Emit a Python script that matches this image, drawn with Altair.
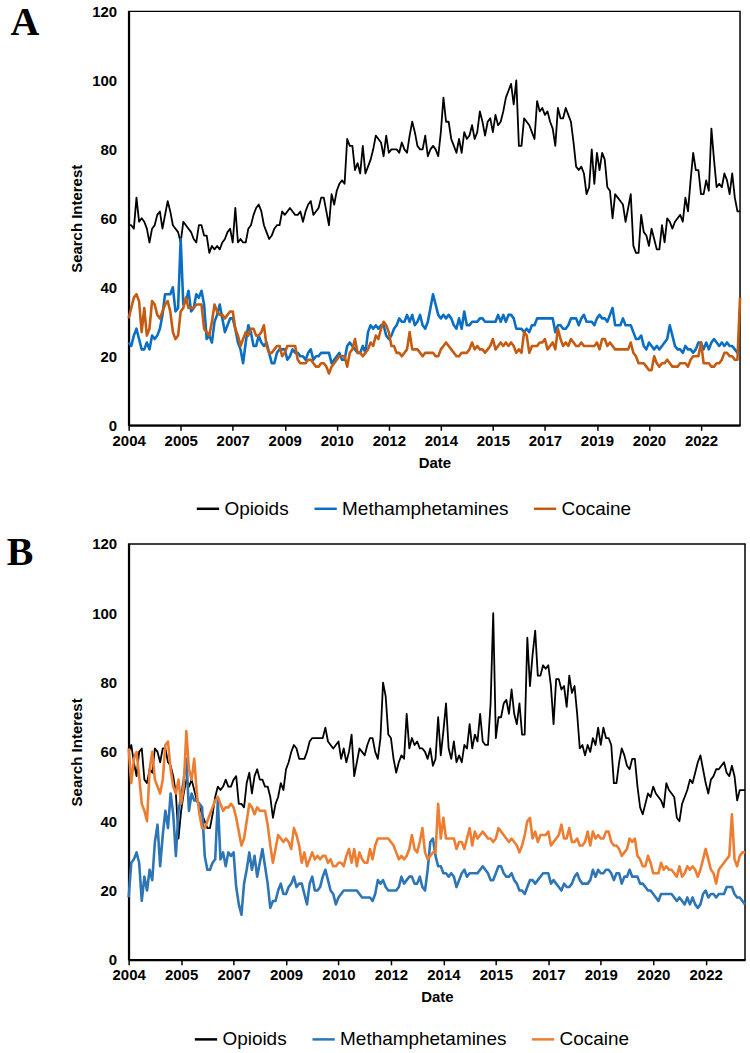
import altair as alt
import pandas as pd

# month index 0 = Jan 2004 ... 235 = Aug 2023
months = list(range(236))
series_names = ["Opioids", "Methamphetamines", "Cocaine"]
tick_months = list(range(0, 221, 20))
y_ticks = [0, 20, 40, 60, 80, 100, 120]

# ---------------- Panel A ----------------
a_opioids = [
    58, 58, 57, 66, 59, 60, 59, 57, 53, 57, 58, 61,
    62, 57, 61, 65, 62, 58, 57, 56, 53, 59, 58, 57,
    56, 54, 53, 58, 58, 55, 55, 50, 52, 51, 52, 51,
    53, 54, 56, 57, 53, 63, 53, 54, 53, 53, 57, 58,
    61, 63, 64, 62, 58, 56, 54, 55, 57, 58, 58, 62,
    61, 62, 63, 62, 61, 61, 62, 59, 62, 64, 65, 61,
    62, 63, 66, 66, 62, 58, 67, 64, 68, 70, 71, 70,
    83, 81, 81, 74, 76, 73, 81, 73, 75, 77, 80, 84,
    83, 82, 78, 84, 79, 80, 80, 80, 79, 82, 80, 79,
    84, 88, 85, 81, 80, 80, 84, 78, 80, 81, 80, 78,
    85, 95, 88, 88, 83, 81, 79, 83, 79, 85, 83, 84,
    87, 83, 85, 91, 88, 84, 88, 89, 85, 90, 87, 88,
    91, 95, 97, 99, 93, 100, 81, 81, 89, 88, 87, 85,
    83, 94, 91, 92, 90, 91, 88, 86, 81, 92, 89, 89,
    92, 90, 88, 82, 75, 74, 75, 73, 67, 69, 80, 70,
    79, 74, 79, 77, 69, 68, 60, 67, 66, 65, 64, 59,
    63, 67, 52, 50, 50, 61, 56, 55, 52, 57, 54, 51,
    51, 58, 53, 60, 59, 57, 59, 60, 61, 59, 66, 62,
    71, 79, 74, 74, 67, 67, 71, 68, 86, 77, 69, 70,
    69, 73, 71, 67, 73, 66, 62, 62,
]
a_meth = [
    24, 23, 26, 28, 25, 22, 22, 24, 22, 26, 25, 26,
    28, 32, 38, 38, 38, 40, 33, 34, 54, 35, 36, 39,
    33, 34, 38, 37, 39, 35, 25, 26, 24, 30, 32, 35,
    31, 27, 29, 31, 31, 28, 24, 22, 18, 24, 29, 27,
    23, 23, 26, 24, 23, 24, 21, 18, 18, 21, 22, 22,
    22, 19, 20, 22, 21, 21, 20, 20, 19, 21, 22, 19,
    20, 20, 21, 21, 21, 21, 18, 19, 20, 21, 19, 19,
    23, 24, 23, 22, 21, 21, 23, 21, 27, 29, 28, 29,
    28, 29, 29, 26, 25, 26, 28, 29, 31, 30, 30, 32,
    30, 32, 29, 30, 32, 29, 28, 30, 34, 38, 35, 32,
    31, 32, 31, 32, 31, 29, 28, 31, 28, 33, 29, 29,
    30, 30, 30, 31, 31, 30, 30, 30, 30, 30, 32, 30,
    32, 30, 32, 32, 31, 28, 28, 28, 27, 28, 27, 29,
    29, 31, 31, 31, 31, 31, 31, 31, 27, 29, 29, 28,
    28, 29, 31, 31, 31, 29, 31, 32, 30, 30, 30, 29,
    31, 32, 31, 31, 30, 32, 34, 29, 29, 29, 31, 29,
    29, 29, 27, 25, 25, 26, 23, 22, 24, 23, 22, 23,
    22, 23, 24, 25, 29, 26, 23, 22, 22, 21, 23, 22,
    22, 21, 22, 24, 24, 22, 24, 22, 24, 25, 24, 23,
    24, 23, 24, 23, 23, 22, 21, 21,
]
a_cocaine = [
    31, 34, 37, 38, 36, 27, 34, 26, 28, 36, 35, 32,
    31, 33, 35, 36, 33, 27, 25, 26, 33, 34, 37, 34,
    34, 34, 35, 35, 35, 28, 27, 26, 30, 35, 33, 32,
    32, 31, 32, 33, 33, 28, 26, 23, 25, 27, 26, 28,
    28, 26, 26, 27, 29, 23, 21, 21, 22, 23, 23, 20,
    21, 23, 23, 23, 23, 19, 18, 18, 18, 19, 19, 18,
    17, 17, 18, 18, 17, 15, 17, 18, 19, 20, 20, 20,
    17, 21, 22, 25, 21, 21, 20, 21, 22, 24, 23, 26,
    25, 28, 30, 29, 27, 23, 23, 21, 21, 20, 21, 22,
    27, 22, 22, 22, 21, 20, 21, 21, 21, 21, 20, 20,
    22, 23, 24, 23, 22, 21, 20, 20, 21, 21, 21, 22,
    24, 22, 23, 22, 22, 21, 22, 23, 25, 22, 23, 24,
    23, 24, 23, 24, 23, 21, 22, 21, 27, 26, 21, 23,
    23, 23, 24, 24, 25, 22, 23, 24, 22, 28, 25, 23,
    24, 23, 25, 24, 23, 23, 24, 23, 23, 23, 23, 23,
    24, 22, 25, 25, 23, 24, 23, 22, 22, 22, 22, 22,
    22, 24, 21, 20, 18, 18, 18, 17, 16, 16, 20, 18,
    17, 18, 18, 19, 18, 17, 17, 17, 18, 18, 18, 17,
    19, 20, 20, 20, 24, 18, 18, 18, 17, 17, 18, 18,
    19, 21, 21, 20, 20, 19, 19, 37,
]

# ---------------- Panel B ----------------
b_opioids = [
    60, 62, 57, 53, 60, 61, 52, 51, 55, 54, 61, 60,
    57, 61, 61, 57, 56, 53, 48, 35, 43, 48, 52, 50,
    52, 49, 46, 44, 42, 40, 38, 38, 42, 47, 50, 49,
    50, 52, 50, 50, 52, 53, 45, 45, 44, 51, 54, 48,
    53, 55, 52, 52, 50, 50, 47, 41, 45, 47, 51, 49,
    55, 57, 60, 62, 61, 58, 58, 58, 60, 63, 64, 64,
    64, 64, 64, 67, 63, 62, 61, 62, 63, 58, 61, 57,
    60, 65, 53, 57, 61, 60, 59, 62, 64, 64, 60, 58,
    64, 80, 76, 65, 64, 58, 54, 57, 59, 58, 71, 61,
    64, 62, 63, 61, 61, 60, 58, 61, 56, 58, 70, 59,
    66, 74, 61, 58, 63, 57, 59, 57, 62, 61, 68, 61,
    65, 63, 71, 63, 62, 62, 74, 100, 64, 70, 70, 74,
    75, 71, 78, 71, 68, 74, 65, 65, 93, 79, 88, 95,
    82, 82, 85, 84, 85, 79, 68, 81, 81, 78, 79, 73,
    82, 77, 79, 71, 61, 62, 59, 62, 60, 64, 62, 67,
    62, 67, 64, 64, 62, 51, 51, 57, 61, 59, 56, 55,
    58, 58, 50, 44, 42, 45, 48, 47, 50, 48, 47, 46,
    44, 51, 49, 48, 47, 41, 40, 45, 47, 49, 52, 51,
    54, 57, 59, 55, 51, 48, 52, 53, 55, 55, 56, 57,
    54, 53, 56, 53, 46, 49, 49, 49,
]
b_meth = [
    18, 28, 29, 31, 28, 17, 24, 20, 26, 23, 34, 39,
    27, 36, 43, 38, 48, 42, 30, 43, 47, 52, 58, 43,
    48, 46, 46, 45, 44, 30, 26, 26, 28, 29, 46, 29,
    31, 27, 31, 30, 31, 21, 16, 13, 22, 26, 31, 26,
    30, 24, 28, 32, 27, 22, 15, 17, 17, 20, 22, 19,
    19, 21, 22, 24, 21, 22, 22, 19, 16, 22, 24, 20,
    20, 21, 24, 26, 23, 20, 19, 16, 18, 19, 20, 20,
    20, 20, 20, 20, 19, 18, 18, 18, 18, 17, 19, 23,
    22, 23, 21, 20, 20, 20, 20, 21, 24, 22, 23, 24,
    24, 22, 22, 24, 21, 20, 26, 34, 35, 30, 27, 27,
    25, 25, 24, 25, 24, 21, 23, 25, 26, 24, 25, 25,
    25, 25, 26, 27, 26, 25, 23, 23, 25, 27, 27, 25,
    24, 24, 25, 23, 22, 20, 20, 19, 21, 23, 23, 22,
    23, 24, 25, 25, 25, 22, 23, 22, 21, 20, 22, 21,
    21, 22, 24, 25, 23, 22, 22, 22, 23, 26, 24, 26,
    25, 25, 26, 26, 25, 23, 25, 25, 22, 24, 24, 26,
    24, 24, 24, 22, 22, 21, 20, 20, 19, 18, 17, 19,
    19, 19, 19, 19, 18, 17, 18, 17, 16, 18, 16, 18,
    16, 15, 16, 19, 20, 18, 19, 19, 18, 19, 19, 19,
    21, 21, 21, 19, 18, 18, 17, 16,
]
b_cocaine = [
    61, 51, 58, 60, 53, 45, 43, 40, 55, 60, 52, 50,
    48, 52, 62, 63, 55, 50, 48, 52, 45, 50, 66, 55,
    52, 58, 48, 42, 38, 38, 40, 42, 44, 46, 47, 45,
    43, 44, 44, 45, 44, 41, 37, 33, 35, 40, 45, 44,
    42, 44, 43, 43, 43, 39, 33, 28, 32, 36, 35, 34,
    35, 34, 32, 38, 36, 33, 28, 31, 27, 29, 31, 29,
    30, 29, 30, 30, 28, 29, 27, 27, 28, 28, 27, 30,
    32, 28, 32, 27, 31, 29, 28, 28, 32, 29, 33, 35,
    35, 35, 35, 35, 34, 33, 31, 29, 30, 29, 30, 32,
    36, 32, 31, 34, 38, 31, 29, 30, 31, 31, 45, 35,
    41, 35, 35, 35, 35, 32, 34, 34, 32, 35, 38, 33,
    37, 35, 36, 37, 36, 35, 35, 34, 35, 38, 37, 36,
    35, 34, 35, 34, 33, 31, 33, 36, 40, 41, 35, 37,
    34, 36, 36, 36, 37, 33, 34, 35, 36, 39, 35, 35,
    38, 34, 34, 35, 33, 33, 34, 37, 33, 37, 35, 36,
    35, 35, 37, 37, 34, 33, 33, 32, 30, 31, 32, 35,
    34, 35, 30, 29, 27, 27, 30, 28, 25, 25, 25, 28,
    26, 27, 26, 26, 25, 24, 27, 24, 25, 27, 26, 27,
    26, 24, 26, 29, 32, 29, 26, 25, 22, 26, 27, 28,
    29, 30, 42, 29, 27, 30, 31, 31,
]

for arr in (a_opioids, a_meth, a_cocaine, b_opioids, b_meth, b_cocaine):
    assert len(arr) == len(months), len(arr)

colors_a = ["#000000", "#0A6FC2", "#C55A11"]
colors_b = ["#000000", "#2E75B6", "#ED7D31"]
FONT = "Liberation Sans, Arial, sans-serif"


def long_df(op, me, co):
    rows = []
    for name, vals in zip(series_names, (op, me, co)):
        for m, v in zip(months, vals):
            rows.append({"m": m, "value": v, "series": name})
    return pd.DataFrame(rows)


def panel(df, colors, letter, width, height, letter_x, letter_y, legend_x, legend_y):
    color = alt.Color(
        "series:N",
        scale=alt.Scale(domain=series_names, range=colors),
        legend=alt.Legend(
            title=None, orient="none", legendX=legend_x, legendY=legend_y,
            direction="horizontal", symbolType="stroke", symbolSize=500,
            symbolStrokeWidth=2.5, labelFontSize=19, labelFont=FONT,
            labelColor="black", labelOffset=4, columnPadding=20, padding=0,
            labelLimit=0,
        ),
    )
    x = alt.X(
        "m:Q",
        scale=alt.Scale(domain=[0, 235], nice=False, zero=False),
        axis=alt.Axis(
            values=tick_months,
            labelExpr="toString(2004 + floor(datum.value / 12))",
            title="Date", ticks=True, tickSize=5, tickWidth=1.5, tickColor="black",
            labelPadding=3, titlePadding=7, labelFlush=False,
        ),
    )
    y = alt.Y(
        "value:Q",
        scale=alt.Scale(domain=[0, 120], nice=False),
        axis=alt.Axis(
            values=y_ticks, title="Search Interest", ticks=False,
            labelPadding=12, titlePadding=7,
        ),
    )
    layers = []
    for name, w in zip(series_names, [1.8, 2.6, 2.6]):
        layers.append(
            alt.Chart(df)
            .transform_filter(alt.datum.series == name)
            .mark_line(strokeWidth=w, strokeJoin="round")
            .encode(x=x, y=y, color=color)
        )
    letter_layer = (
        alt.Chart(pd.DataFrame({"t": [letter]}))
        .mark_text(font="Liberation Serif, Times New Roman, serif", fontWeight="bold",
                   fontSize=40, align="center", baseline="alphabetic", color="black")
        .encode(x=alt.value(letter_x), y=alt.value(letter_y), text="t:N")
    )
    return alt.layer(*layers, letter_layer).properties(width=width, height=height)


panel_a = panel(long_df(a_opioids, a_meth, a_cocaine), colors_a, "A",
                613, 415, -104, 24, 67, 486)
panel_b = panel(long_df(b_opioids, b_meth, b_cocaine), colors_b, "B",
                618, 417, -109, 21, 65, 484)

chart = (
    alt.vconcat(panel_a, panel_b, spacing=12)
    .resolve_scale(color="independent")
    .properties(padding={"left": 5, "top": 1, "right": 2, "bottom": 2},
                background="white")
    .configure_view(stroke="black", strokeWidth=1.5)
    .configure_axis(
        grid=False, domainColor="black", domainWidth=2,
        labelFont=FONT, labelFontWeight="bold", labelFontSize=15, labelColor="black",
        titleFont=FONT, titleFontWeight="bold", titleFontSize=15, titleColor="black",
    )
)

chart.save("out.html", embed_options={"renderer": "svg", "actions": False})
